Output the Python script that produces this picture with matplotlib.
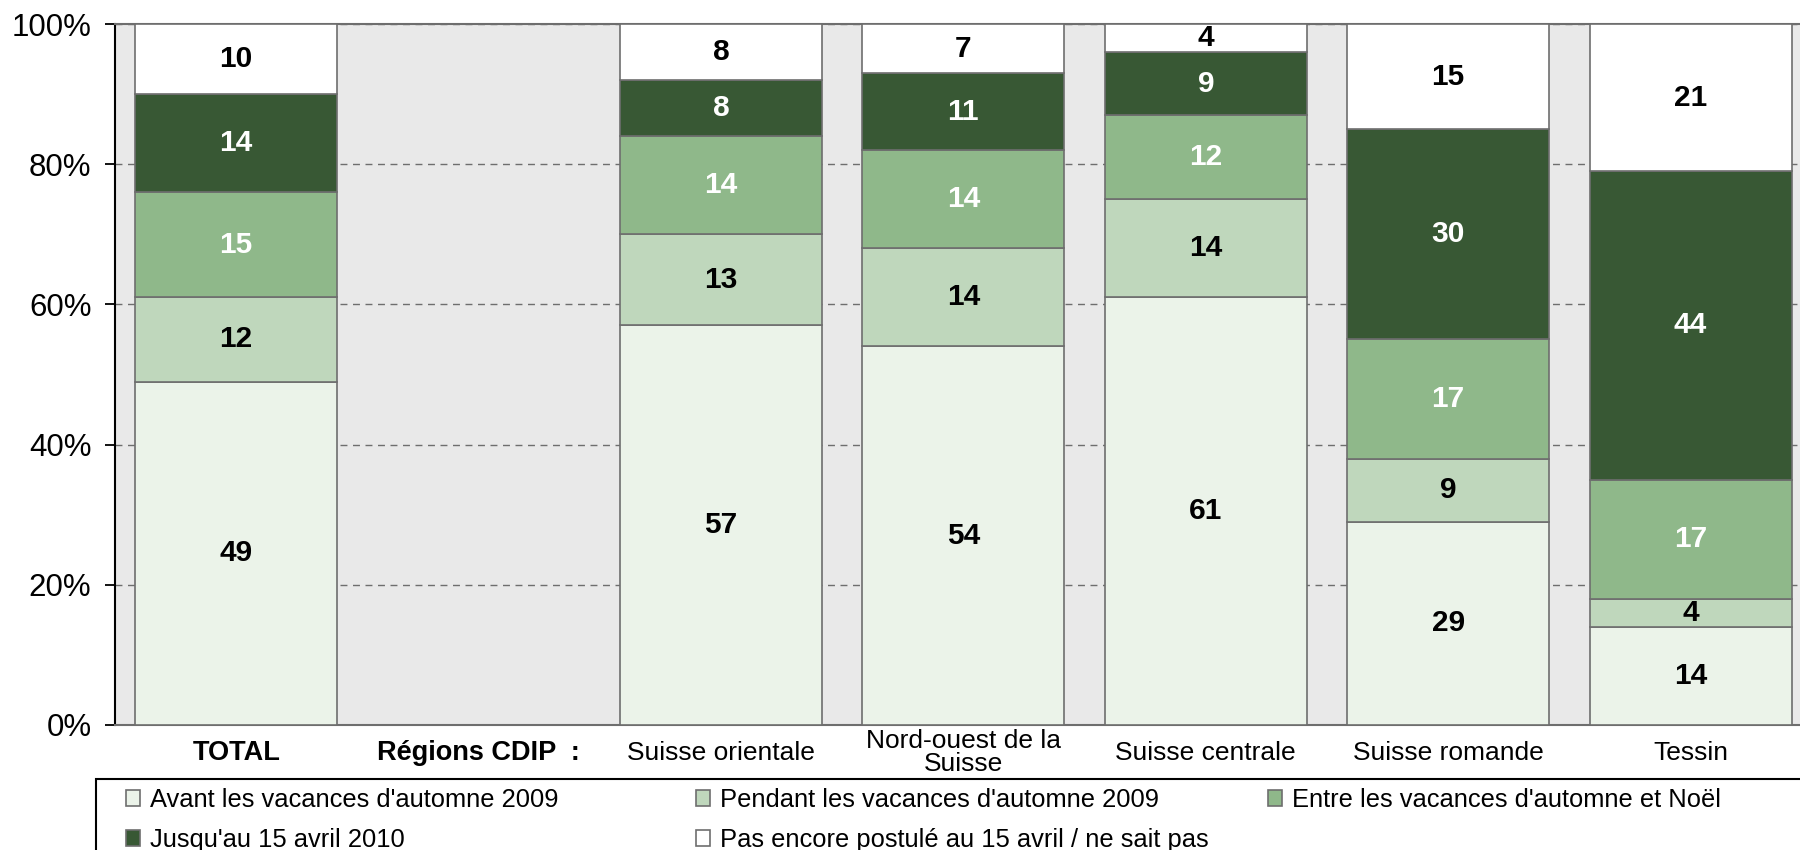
import numpy as np
import matplotlib
matplotlib.use("Agg")
from matplotlib import pyplot as plt
from matplotlib.patches import Patch, Rectangle

plt.rcParams['font.family'] = ['Liberation Sans', 'DejaVu Sans']

categories = ["TOTAL", "Régions CDIP  :", "Suisse orientale", "Nord-ouest de la\nSuisse",
              "Suisse centrale", "Suisse romande", "Tessin"]
series_names = ["Avant les vacances d'automne 2009", "Pendant les vacances d'automne 2009",
                "Entre les vacances d'automne et Noël", "Jusqu'au 15 avril 2010",
                "Pas encore postulé au 15 avril / ne sait pas"]
# one list per series, None for the empty "Régions CDIP" slot
avant    = [49, None, 57, 54, 61, 29, 14]
pendant  = [12, None, 13, 14, 14, 9, 4]
entre    = [15, None, 14, 14, 12, 17, 17]
jusquau  = [14, None, 8, 11, 9, 30, 44]
pas_enc  = [10, None, 8, 7, 4, 15, 21]

colors = ["#ebf3e9", "#bfd7bc", "#8fb88a", "#385834", "#ffffff"]
text_colors = ["black", "black", "white", "white", "black"]
edge = "#6e6e6e"

fig = plt.figure(figsize=(18, 8.5), dpi=100)
W, H = 1800, 850
slot = 242.4
ax = fig.add_axes([115 / W, 1 - 725 / H, 7 * slot / W, (725 - 24) / H])
ax.set_facecolor("#e9e9e9")

x = np.arange(len(categories))
bottom = np.zeros(len(categories))
for vals, col, tcol in zip([avant, pendant, entre, jusquau, pas_enc], colors, text_colors):
    v = np.array([np.nan if a is None else a for a in vals], dtype=float)
    ax.bar(x, np.nan_to_num(v), width=0.833, bottom=bottom, color=col,
           edgecolor=edge, linewidth=1.2, zorder=3)
    for i in range(len(x)):
        if not np.isnan(v[i]):
            ax.text(x[i], bottom[i] + v[i] / 2, f"{int(v[i])}", ha="center", va="center",
                    fontsize=21.5, fontweight="bold", color=tcol, zorder=4)
    bottom = bottom + np.nan_to_num(v)

ax.set_xlim(-0.5, 6.5)
ax.set_ylim(0, 100)
ax.set_yticks([0, 20, 40, 60, 80, 100])
ax.set_yticklabels([f"{t}%" for t in range(0, 101, 20)], fontsize=22.5)
ax.yaxis.grid(True, linestyle=(0, (5, 4)), color="#6e6e6e", linewidth=1.0, zorder=1)
ax.tick_params(axis="y", length=7, width=1.3, pad=10, color="black")
ax.set_xticks(x)
ax.set_xticklabels(categories, fontsize=19, va="center", linespacing=0.95)
for lbl in ax.get_xticklabels()[:2]:
    lbl.set_fontweight("bold")
    lbl.set_fontsize(19.5)
ax.tick_params(axis="x", length=0, pad=20)

ax.spines["left"].set_color("black")
ax.spines["left"].set_linewidth(1.5)
ax.spines["bottom"].set_color(edge)
ax.spines["bottom"].set_linewidth(1.5)
ax.spines["top"].set_color(edge)
ax.spines["top"].set_linewidth(1.5)
ax.spines["right"].set_visible(False)

# legend: frame plus three fixed-width columns
fig.add_artist(Rectangle((96 / W, -0.05), 1.0, 0.05 + (850 - 779) / H,
                         transform=fig.transFigure, facecolor="white",
                         edgecolor="black", linewidth=1.5, zorder=0))
handles = [Patch(facecolor=c, edgecolor=edge, linewidth=1.2) for c in colors]
columns = [[0, 3], [1, 4], [2]]
col_x = [126, 696, 1268]
for idx, cx in zip(columns, col_x):
    fig.legend([handles[i] for i in idx], [series_names[i] for i in idx],
               loc="upper left", bbox_to_anchor=(cx / W, 1 - 788 / H),
               frameon=False, fontsize=18.4, handlelength=0.55, handleheight=0.55,
               handletextpad=0.4, labelspacing=0.62, borderpad=0, borderaxespad=0)

fig.savefig("out.png", dpi=100)
